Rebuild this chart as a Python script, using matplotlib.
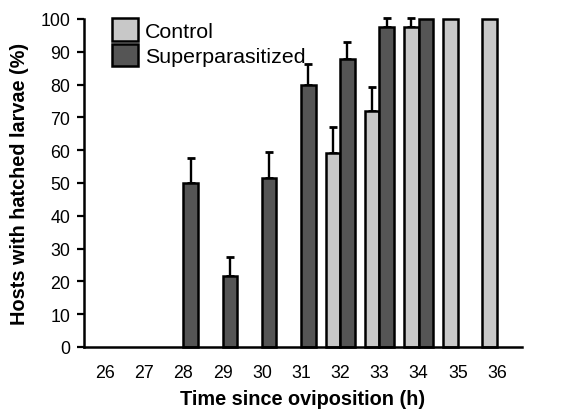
import numpy as np
import matplotlib.pyplot as plt

plt.rcParams['font.family'] = ['Liberation Sans', 'DejaVu Sans']

# hours since oviposition, and % of hosts with hatched larvae (mean + upper SE)
hours = [26, 27, 28, 29, 30, 31, 32, 33, 34, 35, 36]
control_hours = [32, 33, 34, 35, 36]
control_mean = [59.0, 72.0, 97.5, 100.0, 100.0]
control_err = [8.0, 7.2, 2.7, 0.0, 0.0]
super_hours = [28, 29, 30, 31, 32, 33, 34]
super_mean = [50.0, 21.5, 51.5, 79.8, 87.7, 97.7, 100.0]
super_err = [7.5, 5.8, 7.9, 6.4, 5.4, 2.6, 0.0]

bar_w = 0.37
light = '#c8c8c8'
dark = '#555555'

fig = plt.figure(figsize=(5.76, 4.10), dpi=100)
ax = fig.add_axes([84 / 576, 1 - 348 / 410, (522 - 84) / 576, (348 - 20) / 410])

cb = ax.bar(control_hours, control_mean, width=-bar_w, align='edge', color=light,
            edgecolor='black', linewidth=1.8, label='Control', zorder=2)
sb = ax.bar(super_hours, super_mean, width=bar_w, align='edge', color=dark,
            edgecolor='black', linewidth=1.8, label='Superparasitized', zorder=2)
for p in list(cb) + list(sb):
    p.set_clip_on(False)

# upward-only error bars, skip zero-length ones
cx = np.array(control_hours) - bar_w / 2
sx = np.array(super_hours) + bar_w / 2
for xs, ms, es in [(cx, control_mean, control_err), (sx, super_mean, super_err)]:
    for x, m, e in zip(xs, ms, es):
        if e > 0:
            eb = ax.errorbar(x, m, yerr=[[0], [e]], fmt='none', ecolor='black',
                             elinewidth=1.7, capsize=2.8, capthick=2, zorder=1)
            for art in eb.lines[1] + eb.lines[2]:
                art.set_clip_on(False)

ax.set_xlim(25.464, 36.638)
ax.set_ylim(0, 100)
ax.spines['right'].set_visible(False)
ax.spines['top'].set_visible(False)
ax.spines['left'].set_linewidth(1.8)
ax.spines['bottom'].set_linewidth(1.8)

ax.set_xticks(hours)
ax.set_xticklabels([str(h) for h in hours])
ax.set_yticks(range(0, 101, 10))
ax.tick_params(axis='x', length=0, labelsize=12.8, pad=12)
ax.tick_params(axis='y', length=5, width=1.6, labelsize=12.8, pad=5)

ax.set_xlabel('Time since oviposition (h)', fontsize=14.3, fontweight='bold', labelpad=6)
ax.set_ylabel('Hosts with hatched larvae (%)', fontsize=14.3, fontweight='bold', labelpad=8)

leg = ax.legend(loc='upper left', bbox_to_anchor=(112 / 576, 1 - 19 / 410),
                bbox_transform=fig.transFigure, frameon=False,
                fontsize=15.4, handlelength=1.2, handleheight=1.25, handletextpad=0.35,
                labelspacing=0.15, borderaxespad=0, borderpad=0)
for h in leg.legend_handles:
    h.set_linewidth(1.8)

fig.savefig('out.png', dpi=100)
